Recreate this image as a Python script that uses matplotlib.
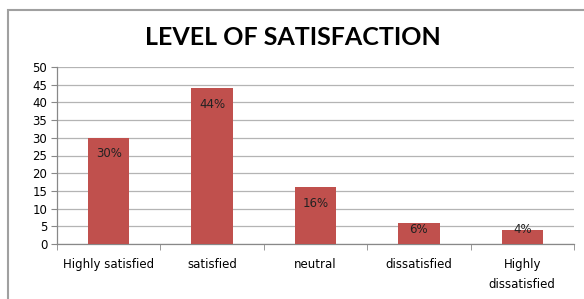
import numpy as np
import matplotlib
matplotlib.use("Agg")
import matplotlib.pyplot as plt
from matplotlib.patches import Rectangle

# survey results
categories = ["Highly satisfied", "satisfied", "neutral", "dissatisfied", "Highly\ndissatisfied"]
values = [30, 44, 16, 6, 4]
labels = ["30%", "44%", "16%", "6%", "4%"]

fig = plt.figure(figsize=(5.84, 2.99), dpi=100)
ax = fig.add_axes([57/584, 1-244/299, (574-57)/584, (244-67)/299])

x = np.arange(len(categories))
bars = ax.bar(x, values, width=0.4, color="#C0504D", zorder=3)
for b, lab in zip(bars, labels):
    # excel style "inside end" labels, kept inside for short bars
    ax.text(b.get_x() + b.get_width()/2, max(b.get_height() - 4.5, 4), lab,
            ha="center", va="center", fontsize=8.5, color="#222222", zorder=4)

ax.set_xlim(-0.5, len(categories) - 0.5)
ax.set_ylim(0, 50)
ax.set_yticks(np.arange(0, 51, 5))
ax.yaxis.grid(True, color="#b4b4b4", lw=0.9, zorder=0)
ax.set_xticks(x)
ax.set_xticklabels(categories, fontsize=8.5, linespacing=1.75)
ax.set_xticks(np.arange(-0.5, len(categories)), minor=True)
ax.tick_params(axis="x", which="major", length=0, pad=10)
ax.tick_params(axis="x", which="minor", length=4, color="#888888")
ax.tick_params(axis="y", length=4, color="#888888", labelsize=8.5, pad=3)

for s in ["top", "right"]:
    ax.spines[s].set_visible(False)
for s in ["left", "bottom"]:
    ax.spines[s].set_color("#888888")
    ax.spines[s].set_linewidth(0.9)

fig.text(0.502, 1-37.5/299, "LEVEL OF SATISFACTION", ha="center", va="center",
         fontsize=18, fontweight="bold", family="Lato")

fig.patches.append(Rectangle((8/584, -0.1), 1.2, 1.1 - 10/299,
                             transform=fig.transFigure, fill=False,
                             edgecolor="#a0a0a0", lw=1.5))

fig.savefig("out.png", dpi=100)
